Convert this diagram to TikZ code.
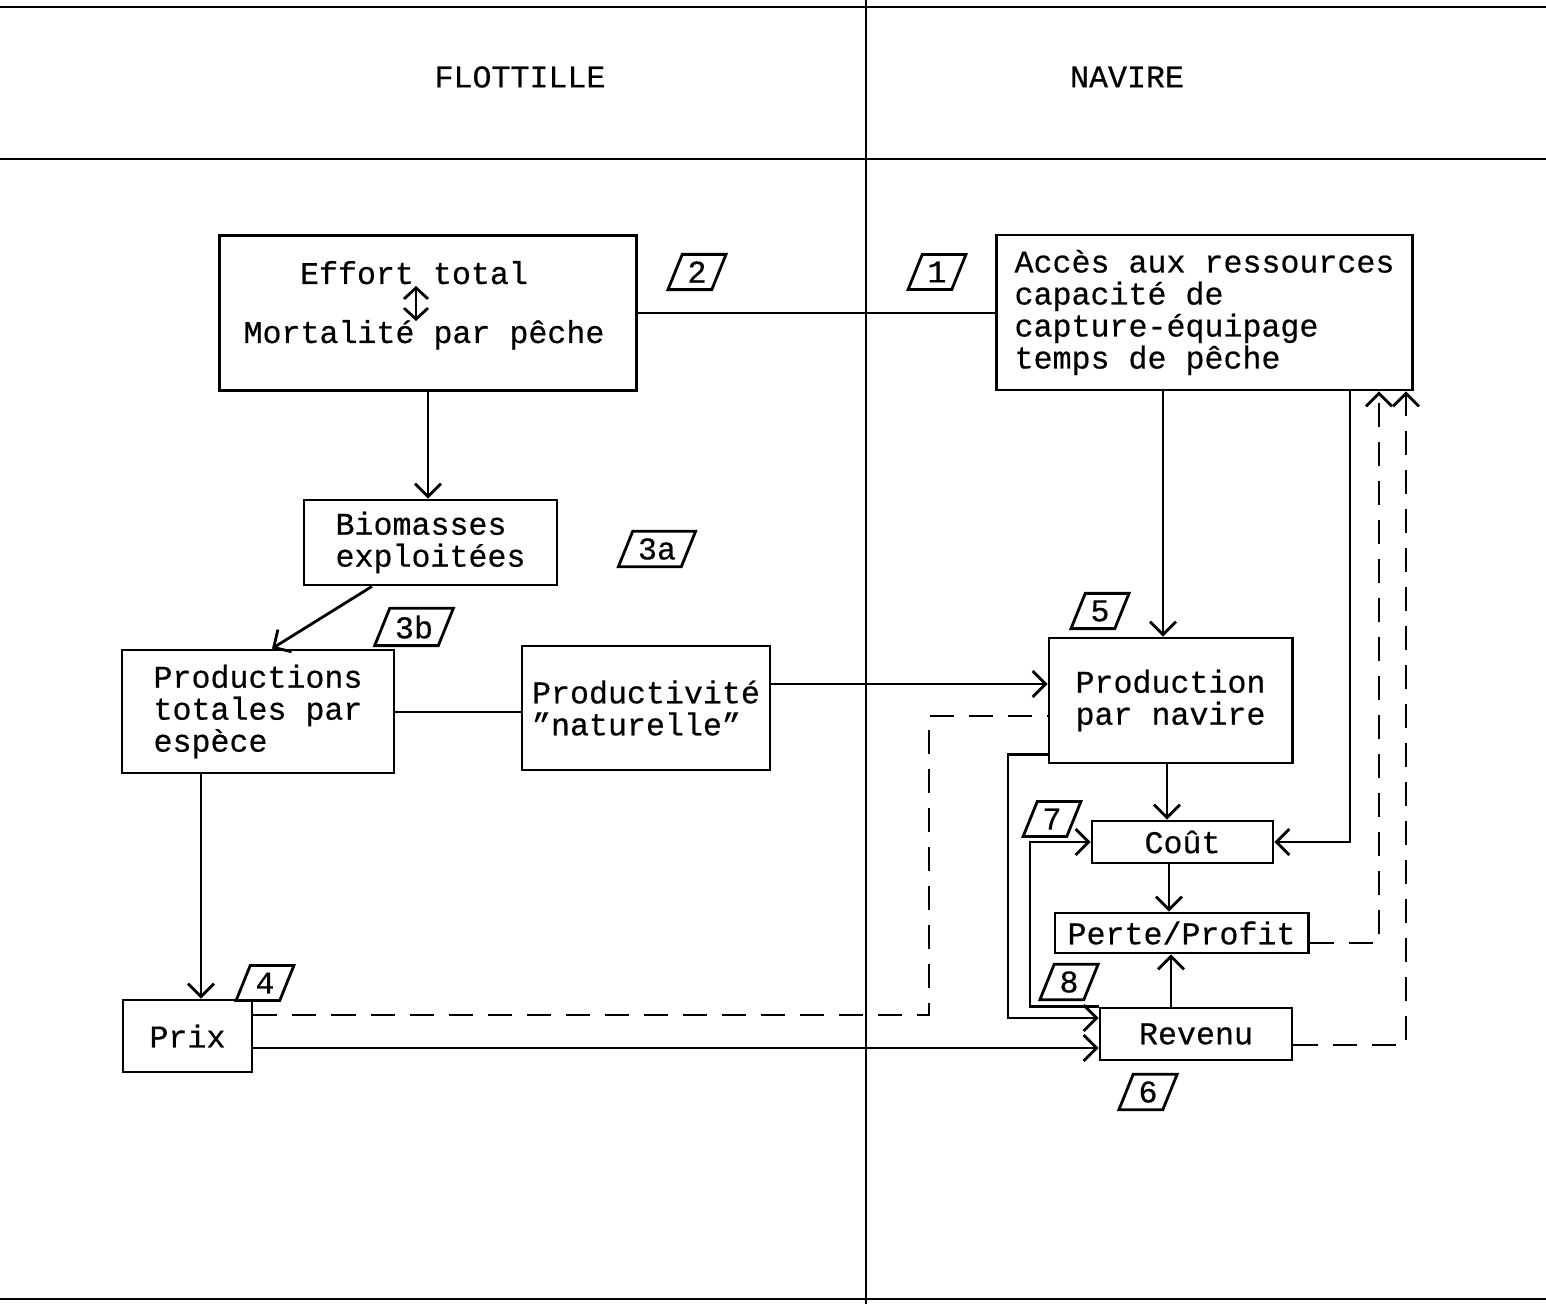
\documentclass[tikz,border=0pt]{standalone}
\usepackage{fontspec}
\setmainfont[FakeBold=0.5]{Liberation Mono}
\usetikzlibrary{arrows.meta,shapes.geometric}
\begin{document}
\begin{tikzpicture}[x=0.01cm,y=-0.01cm,
  line width=0.8pt,
  >={Straight Barb[length=1.3mm,width=2.6mm]},
  every node/.style={font=\fontsize{9}{9.1}\selectfont},
  box/.style={draw, inner sep=0pt, align=left},
  lab/.style={draw, trapezium, trapezium left angle=68, trapezium right angle=112,
              inner xsep=1.5pt, inner ysep=2pt, minimum height=0.34cm},
  dsh/.style={dash pattern=on 2.4mm off 1.5mm}]
\useasboundingbox (0,0) rectangle (1546,1304);

% frame
\draw (0,7) -- (1546,7);
\draw (0,159) -- (1546,159);
\draw (0,1299) -- (1546,1299);
\draw (866,0) -- (866,1304);

% headers
\node (hflot) at (520,77) {FLOTTILLE};
\node (hnav) at (1127,77) {NAVIRE};

% boxes
\node[box, minimum width=4.16cm, minimum height=1.55cm] (effort) at (428,313) {};
\node[anchor=base] (effT) at (414,284) {Effort total};
\node[anchor=base] (effM) at (424,343) {Mortalité par pêche};
\coordinate (dA) at (416,286);
\coordinate (dB) at (416,321);
\draw[<->, >={Straight Barb[length=1.1mm,width=2.4mm]}] (dB) -- (dA);

\node[box, minimum width=4.15cm, minimum height=1.55cm] (acces) at (1204.5,312.5)
  {Accès aux ressources\\capacité de\\capture-équipage\\temps de pêche};
\node[box, minimum width=2.53cm, minimum height=0.85cm] (biom) at (430.5,542.5)
  {Biomasses\\exploitées};
\node[box, minimum width=2.72cm, minimum height=1.23cm] (prodtot) at (258,711.5)
  {Productions\\totales par\\espèce};
\node[box, minimum width=2.48cm, minimum height=1.24cm] (prodnat) at (646,708)
  {Productivité\\"naturelle"};
\node[box, minimum width=2.43cm, minimum height=1.25cm] (prodnav) at (1170.5,700.5)
  {Production\\par navire};
\node[box, minimum width=1.81cm, minimum height=0.42cm] (cout) at (1182.5,842) {Coût};
\node[box, minimum width=2.53cm, minimum height=0.40cm] (perte) at (1181.5,933) {Perte/Profit};
\node[box, minimum width=1.92cm, minimum height=0.52cm] (revenu) at (1196,1034) {Revenu};
\node[box, minimum width=1.29cm, minimum height=0.72cm] (prix) at (187.5,1036) {Prix};

% labels
\node[lab] (l1) at (937,272) {1};
\node[lab] (l2) at (697,272) {2};
\node[lab] (l3a) at (657,549) {3a};
\node[lab] (l3b) at (414,627) {3b};
\node[lab] (l4) at (265,983) {4};
\node[lab] (l5) at (1100,611) {5};
\node[lab] (l6) at (1148,1092) {6};
\node[lab] (l7) at (1052,819) {7};
\node[lab] (l8) at (1069,982) {8};

% helper columns
\coordinate (c201) at (201,0);
\coordinate (c929) at (929,0);
\coordinate (c1008) at (1008,0);
\coordinate (c1030) at (1030,0);
\coordinate (c1163) at (1163,0);
\coordinate (c1167) at (1167,0);
\coordinate (c1169) at (1169,0);
\coordinate (c1171) at (1171,0);
\coordinate (c1350) at (1350,0);
\coordinate (c1379) at (1379,0);
\coordinate (c1406) at (1406,0);

% connectors
\draw (effort.east) -- (effort.east -| acces.west);
\draw[->] (effort.south) -- (effort.south |- biom.north);
\draw[->] ([xshift=-0.585cm]biom.south) -- ([xshift=0.14cm]prodtot.north);
\draw (prodtot.east |- 0,712) -- (prodnat.west |- 0,712);
\coordinate (n1) at ([yshift=0.24cm]prodnat.east);
\draw[->] (n1) -- (n1 -| prodnav.west);
\draw[->] (prodtot.south -| c201) -- (prix.north -| c201);
\draw[->] (acces.south -| c1163) -- (prodnav.north -| c1163);
\draw[->] (prodnav.south -| c1167) -- (cout.north -| c1167);
\draw[->] (acces.south -| c1350) |- (cout.east);
\draw[->] (cout.south -| c1169) -- (perte.north -| c1169);
\draw[->] (revenu.north -| c1171) -- (perte.south -| c1171);
\coordinate (p1) at ([yshift=0.1cm]prodnav.south west);
\coordinate (r1) at ([yshift=0.16cm]revenu.west);
\draw[->] (p1) -- (p1 -| c1008) |- (r1);
\draw[->] (revenu.north west) -- (revenu.north west -| c1030) |- (cout.west);
\coordinate (q1) at ([yshift=-0.12cm]prix.east);
\draw[->] (q1) -- (q1 -| revenu.west);
\coordinate (q2) at ([yshift=0.21cm]prix.east);
\coordinate (p2) at ([yshift=-0.155cm]prodnav.west);
\draw[dsh] (q2) -- (q2 -| c929) |- (p2);
\coordinate (e1) at ([yshift=-0.1cm]perte.east);
\draw[dsh,->] (e1) -- (e1 -| c1379) -- (acces.south -| c1379);
\coordinate (e2) at ([yshift=-0.11cm]revenu.east);
\draw[dsh,->] (e2) -- (e2 -| c1406) -- (acces.south -| c1406);
\end{tikzpicture}
\end{document}
